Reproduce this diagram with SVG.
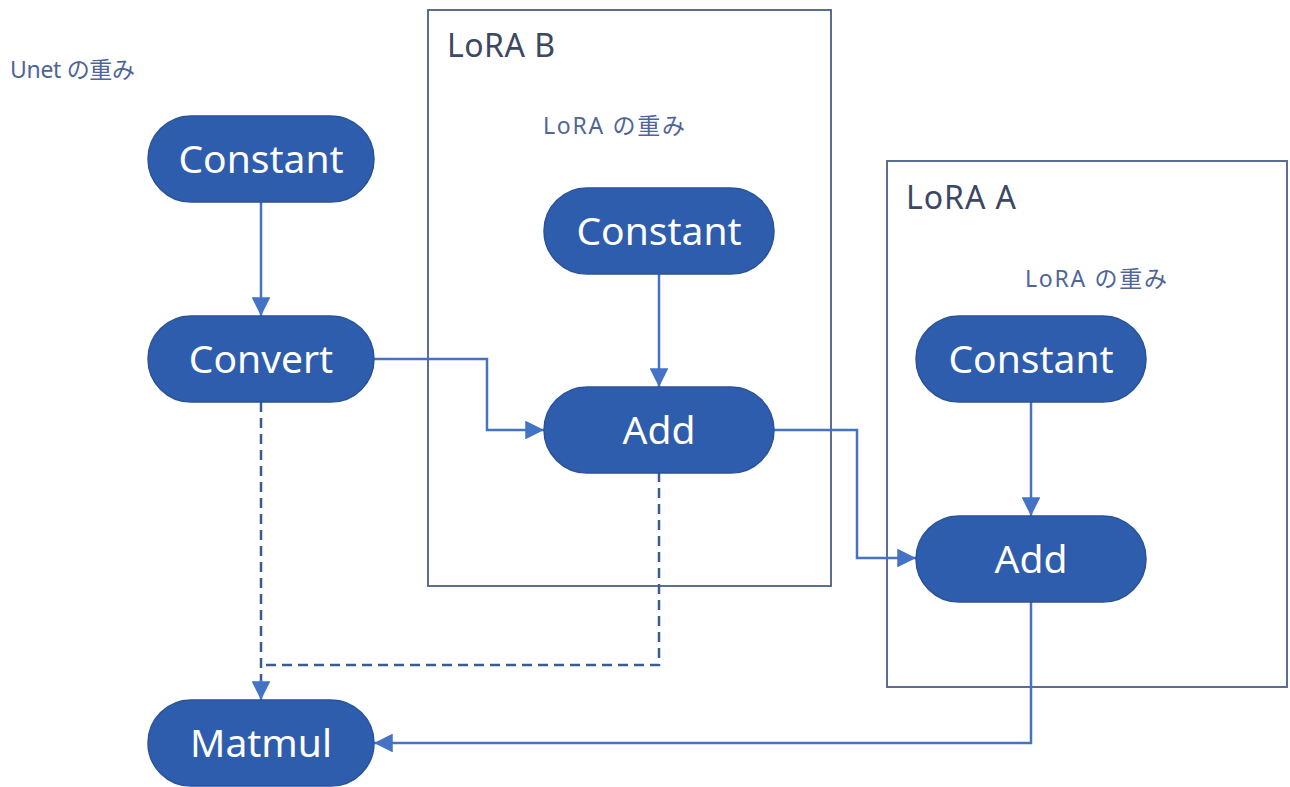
<svg xmlns="http://www.w3.org/2000/svg" width="1290" height="787" viewBox="0 0 1290 787">
<style>
.node rect{fill:#2F5DAD;stroke:#2A5299;stroke-width:1.5}
.node text{fill:#ffffff;font-family:"Noto Sans","Open Sans","DejaVu Sans",sans-serif;font-size:39px;text-anchor:middle}
.box{fill:none;stroke:#4B5F86;stroke-width:1.8}
.title{fill:#3B4763;font-family:"Noto Sans","Noto Sans CJK JP",sans-serif;font-size:32px}
.sub{fill:#4F6598;font-family:"Noto Sans","Noto Sans CJK JP",sans-serif;font-size:23px}
.c{fill:none;stroke:#4472C4;stroke-width:2.5}
.d{fill:none;stroke:#3D5A94;stroke-width:2.5;stroke-dasharray:10 6}
</style>
<defs>
<marker id="ah" viewBox="0 0 10 10" refX="10" refY="5" markerWidth="7.5" markerHeight="7.5" markerUnits="strokeWidth" orient="auto">
<path d="M0,0 L10,5 L0,10 z" fill="#4472C4"/>
</marker>
</defs>
<rect width="1290" height="787" fill="#ffffff"/>
<g id="groups">
<rect class="box" x="428" y="10" width="403" height="576"/>
<text class="title" x="447" y="57" textLength="108" lengthAdjust="spacing">LoRA B</text>
<text class="sub" x="543" y="134" textLength="142" lengthAdjust="spacing">LoRA の重み</text>
<rect class="box" x="887" y="161" width="400" height="526"/>
<text class="title" x="906" y="209" textLength="110" lengthAdjust="spacing">LoRA A</text>
<text class="sub" x="1025" y="287" textLength="142" lengthAdjust="spacing">LoRA の重み</text>
<text class="sub" x="10" y="78" font-size="22" textLength="125" lengthAdjust="spacing">Unet の重み</text>
</g>
<g id="connectors">
<path class="c" d="M261,202 V316" marker-end="url(#ah)"/>
<path class="c" d="M374,359 H487 V430 H544" marker-end="url(#ah)"/>
<path class="c" d="M659,274 V387" marker-end="url(#ah)"/>
<path class="c" d="M774,430 H857 V558 H916" marker-end="url(#ah)"/>
<path class="c" d="M1031,402 V516" marker-end="url(#ah)"/>
<path class="c" d="M1031,601 V743 H374" marker-end="url(#ah)"/>
<path class="d" d="M261,402 V682"/>
<path class="d" d="M659,472 V665 H261"/>
<path d="M261,680 V700" class="c" marker-end="url(#ah)"/>
</g>
<g id="unet_constant" class="node"><rect x="148" y="116" width="226" height="86" rx="43"/><text x="261" y="173">Constant</text></g>
<g id="convert" class="node"><rect x="148" y="316" width="226" height="86" rx="43"/><text x="261" y="373">Convert</text></g>
<g id="matmul" class="node"><rect x="148" y="700" width="226" height="86" rx="43"/><text x="261" y="757">Matmul</text></g>
<g id="lorab_constant" class="node"><rect x="544" y="188" width="230" height="86" rx="43"/><text x="659" y="245">Constant</text></g>
<g id="lorab_add" class="node"><rect x="544" y="387" width="230" height="86" rx="43"/><text x="659" y="444">Add</text></g>
<g id="loraa_constant" class="node"><rect x="916" y="316" width="230" height="86" rx="43"/><text x="1031" y="373">Constant</text></g>
<g id="loraa_add" class="node"><rect x="916" y="516" width="230" height="86" rx="43"/><text x="1031" y="573">Add</text></g>
</svg>
